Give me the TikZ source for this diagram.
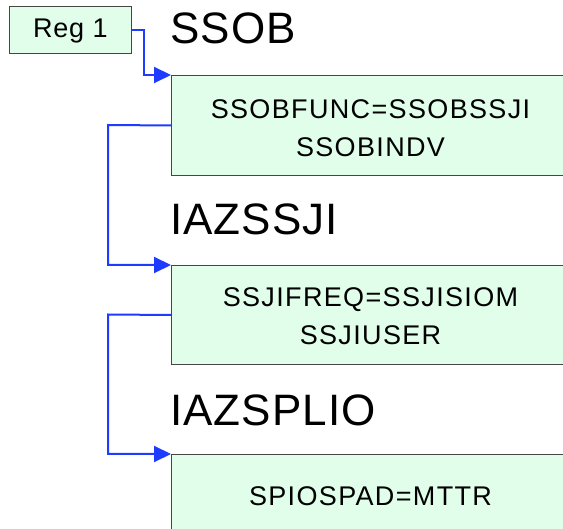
\documentclass[tikz,border=0pt]{standalone}
\usepackage{fontspec}
\setmainfont{Liberation Sans}
\usetikzlibrary{arrows.meta}
\definecolor{boxfill}{RGB}{224,254,233}
\definecolor{linkblue}{RGB}{30,60,255}
\definecolor{boxline}{RGB}{70,70,70}
\newcommand{\lowline}[2]{\raisebox{-#1}[\height][\depth]{#2}}
\begin{document}
\begin{tikzpicture}[x=1pt,y=-1pt,
  boxnode/.style={draw=boxline, fill=boxfill, line width=1pt, rectangle, inner sep=0pt,
    anchor=north west, minimum width=398pt, minimum height=100pt, align=center,
    font=\fontsize{27}{38.4}\selectfont\addfontfeature{LetterSpace=5}},
  regnode/.style={draw=boxline, fill=boxfill, line width=1pt, rectangle, inner sep=0pt,
    minimum width=122.7pt, minimum height=46.6pt,
    font=\fontsize{27}{32}\selectfont\addfontfeature{LetterSpace=3}},
  titlenode/.style={anchor=base west, inner sep=0pt,
    font=\fontsize{44}{50}\selectfont\addfontfeature{LetterSpace=2.5}},
  link/.style={draw=linkblue, line width=2pt, -{Triangle[length=17pt,width=16pt]}}]
\useasboundingbox (0,0) rectangle (563,529);
\clip (0,0) rectangle (563,529);
\node[regnode] (reg) at (70.35,30) {\lowline{1pt}{Reg 1}};
\node[titlenode] (t1) at (170,43.3) {SSOB};
\node[boxnode] (b1) at (171,75) {\lowline{3pt}{SSOBFUNC=SSOBSSJI}\\\lowline{3pt}{SSOBINDV}};
\node[titlenode] (t2) at (170,235) {IAZSSJI};
\node[boxnode, minimum height=99pt] (b2) at (171,265) {\lowline{1.5pt}{SSJIFREQ=SSJISIOM}\\\lowline{1.5pt}{SSJIUSER}};
\node[titlenode] (t3) at (170,426) {IAZSPLIO};
\node[boxnode, minimum height=83pt] (b3) at (171,454) {SPIOSPAD=MTTR};
\coordinate (k1) at (144,30);
\coordinate (k2) at (108,125);
\coordinate (k3) at (108,314.5);
\draw[link] (reg.east) -- (k1) |- (b1.north west);
\draw[link] (b1.west) -- (k2) |- (b2.north west);
\draw[link] (b2.west) -- (k3) |- (b3.north west);
\end{tikzpicture}
\end{document}
